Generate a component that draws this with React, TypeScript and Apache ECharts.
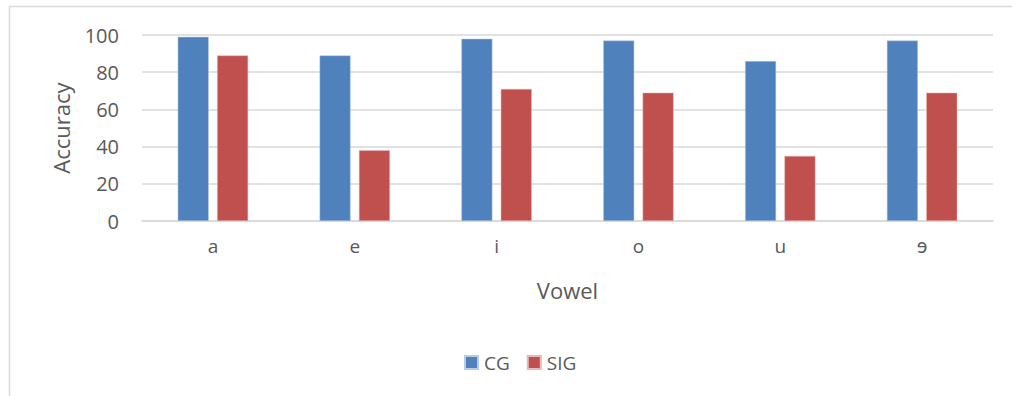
import React, { useEffect, useRef } from "react";
import * as echarts from "echarts";

const categories = ["a", "e", "i", "o", "u", "ɘ"];
const cgValues = [99, 89, 98, 97, 86, 97];
const sigValues = [89, 38, 71, 69, 35, 69];
const seriesNames = ["CG", "SIG"];
const yTicks = { min: 0, max: 100, interval: 20 };

const FONT = "'Open Sans', 'Noto Sans', sans-serif";
const TEXT = "#595959";
const GRID = "#d9d9d9";

export default function App() {
  const ref = useRef<HTMLDivElement>(null);
  useEffect(() => {
    if (!ref.current) return;
    const chart = echarts.init(ref.current, null, { renderer: "svg" });
    chart.setOption({
      animation: false,
      backgroundColor: "#ffffff",
      textStyle: { fontFamily: FONT, color: TEXT },
      graphic: [
        {
          type: "rect",
          shape: { x: 9.5, y: 6.5, width: 1100, height: 500 },
          style: { fill: "none", stroke: GRID, lineWidth: 1.5 },
          silent: true,
          z: -10,
        },
      ],
      grid: { left: 142, right: 19, top: 35, bottom: 175 },
      legend: {
        data: seriesNames,
        top: 348,
        left: 459,
        icon: "rect",
        itemWidth: 13,
        itemHeight: 13,
        itemGap: 17,
        textStyle: { fontFamily: FONT, color: TEXT, fontSize: 19, padding: [0, 0, 0, 1] },
      },
      xAxis: {
        type: "category",
        data: categories,
        name: "Vowel",
        nameLocation: "middle",
        nameGap: 58,
        nameTextStyle: { fontFamily: FONT, color: TEXT, fontSize: 22 },
        axisLine: { lineStyle: { color: GRID, width: 1.5 } },
        axisTick: { show: false },
        axisLabel: { fontFamily: FONT, color: TEXT, fontSize: 19, margin: 15 },
      },
      yAxis: {
        type: "value",
        min: yTicks.min,
        max: yTicks.max,
        interval: yTicks.interval,
        name: "Accuracy",
        nameLocation: "middle",
        nameGap: 70,
        nameTextStyle: { fontFamily: FONT, color: TEXT, fontSize: 22 },
        axisLine: { show: false },
        axisTick: { show: false },
        axisLabel: { fontFamily: FONT, color: TEXT, fontSize: 20, margin: 23 },
        splitLine: { lineStyle: { color: GRID, width: 1.5 } },
      },
      series: [
        {
          name: seriesNames[0],
          type: "bar",
          data: cgValues,
          barWidth: 31,
          barGap: "27%",
          itemStyle: { color: "#4f81bd", borderColor: "#b8cce4", borderWidth: 0.5 },
        },
        {
          name: seriesNames[1],
          type: "bar",
          data: sigValues,
          barWidth: 31,
          barGap: "27%",
          itemStyle: { color: "#c0504d", borderColor: "#e6b9b8", borderWidth: 0.5 },
        },
      ],
    });
    return () => chart.dispose();
  }, []);
  return (
    <div
      ref={ref}
      style={{ position: "absolute", left: 0, top: 0, width: 1012, height: 396 }}
    />
  );
}
